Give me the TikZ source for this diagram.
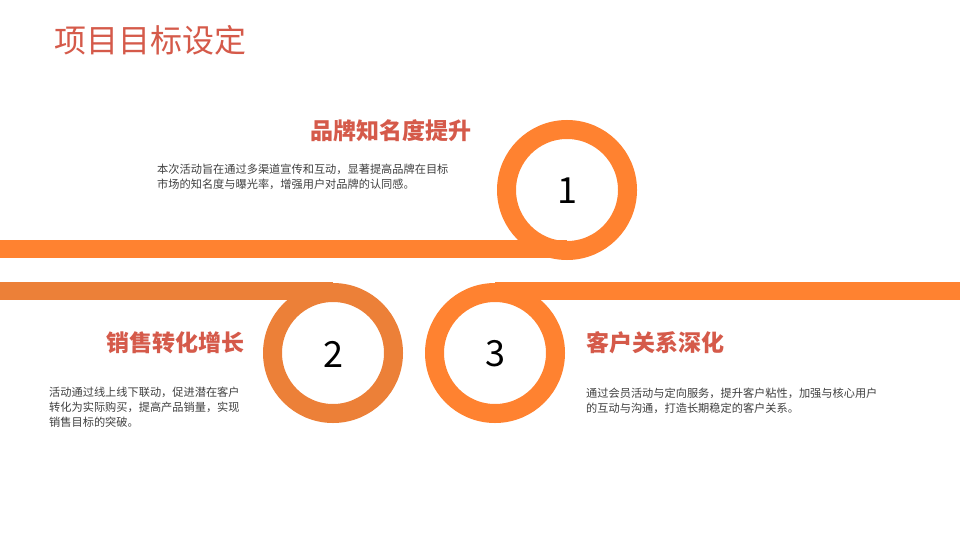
\documentclass[tikz,border=0pt]{standalone}
\usepackage{fontspec}
\setmainfont{Noto Sans CJK SC}
\definecolor{org}{HTML}{FF8230}
\definecolor{org2}{HTML}{EC8038}
\definecolor{ttl}{HTML}{D55A4A}
\definecolor{txt}{HTML}{404040}
\begin{document}
\begin{tikzpicture}[x=1pt,y=-1pt,
  ring/.style={line width=19pt},
  head/.style={text=ttl,font=\fontsize{23}{25}\selectfont\bfseries,inner sep=0},
  body/.style={text=txt,font=\fontsize{11.2}{14.8}\selectfont,align=left,anchor=north west,inner sep=0},
  num/.style={font=\fontsize{36}{36}\selectfont,inner sep=0}]
\useasboundingbox[fill=white] (0,0) rectangle (960,540);
\node[anchor=west,text=ttl,font=\fontsize{32}{34}\selectfont,inner sep=0] (title) at (54,40) {项目目标设定};
% bands
\fill[org] (0,240) rectangle (567,258);
\fill[org2] (0,282) rectangle (333,300);
\fill[org] (495,282) rectangle (960,300);
% rings
\draw[ring,org] (567,190) circle[radius=60.5];
\draw[ring,org2] (333,353) circle[radius=60.5];
\draw[ring,org] (495,353) circle[radius=60.5];
\node[num] (n1) at (567,191) {1};
\node[num] (n2) at (333,354) {2};
\node[num] (n3) at (495,354) {3};
\node[head,anchor=east] (h1) at (472,131) {品牌知名度提升};
\node[body] (b1) at (157,164) {本次活动旨在通过多渠道宣传和互动，显著提高品牌在目标\\市场的知名度与曝光率，增强用户对品牌的认同感。};
\node[head,anchor=east] (h2) at (245,343) {销售转化增长};
\node[body] (b2) at (49,387) {活动通过线上线下联动，促进潜在客户\\转化为实际购买，提高产品销量，实现\\销售目标的突破。};
\node[head,anchor=west] (h3) at (586,343) {客户关系深化};
\node[body] (b3) at (586,388) {通过会员活动与定向服务，提升客户粘性，加强与核心用户\\的互动与沟通，打造长期稳定的客户关系。};
\end{tikzpicture}
\end{document}
